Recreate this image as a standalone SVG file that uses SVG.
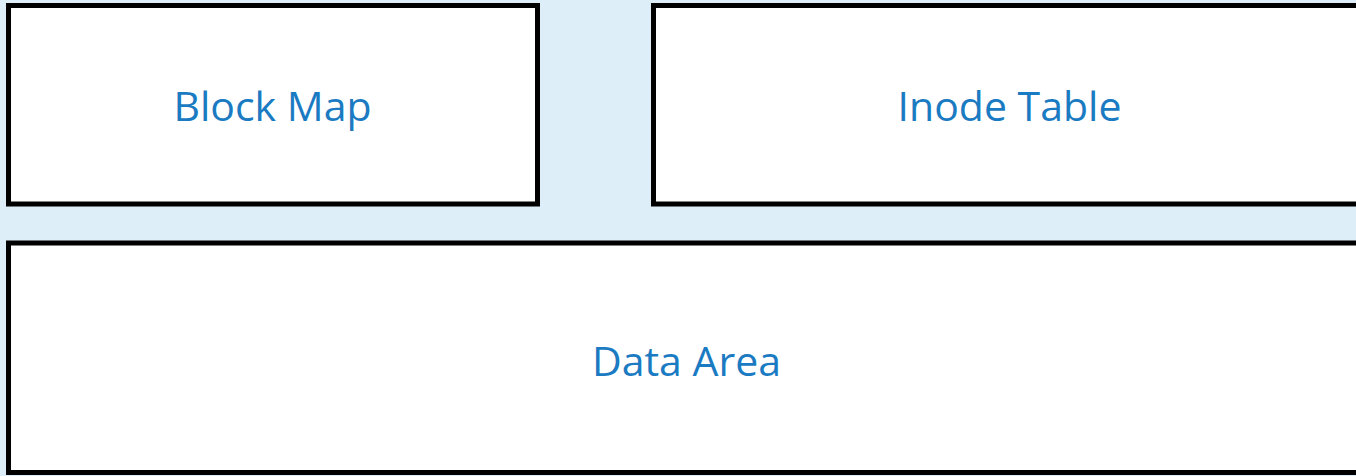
<svg xmlns="http://www.w3.org/2000/svg" width="1356" height="476" viewBox="0 0 1356 476">
<style>
.box{fill:#ffffff;stroke:#000000;stroke-width:5}
.lbl{font-family:"Open Sans","Noto Sans",sans-serif;font-size:41px;fill:#1B7BC2;text-anchor:middle}
</style>
<rect x="0" y="0" width="1356" height="476" fill="#DEEEF8"/>
<g id="block-map">
<rect class="box" x="8.5" y="5.5" width="529" height="198.5"/>
<text class="lbl" x="272.5" y="121">Block Map</text>
</g>
<g id="inode-table">
<rect class="box" x="653.5" y="5.5" width="720" height="198.5"/>
<text class="lbl" x="1009.5" y="121">Inode Table</text>
</g>
<g id="data-area">
<rect class="box" x="8.5" y="243" width="1365" height="229.5"/>
<text class="lbl" x="686.5" y="376">Data Area</text>
</g>
<g id="connectors"></g>
</svg>
